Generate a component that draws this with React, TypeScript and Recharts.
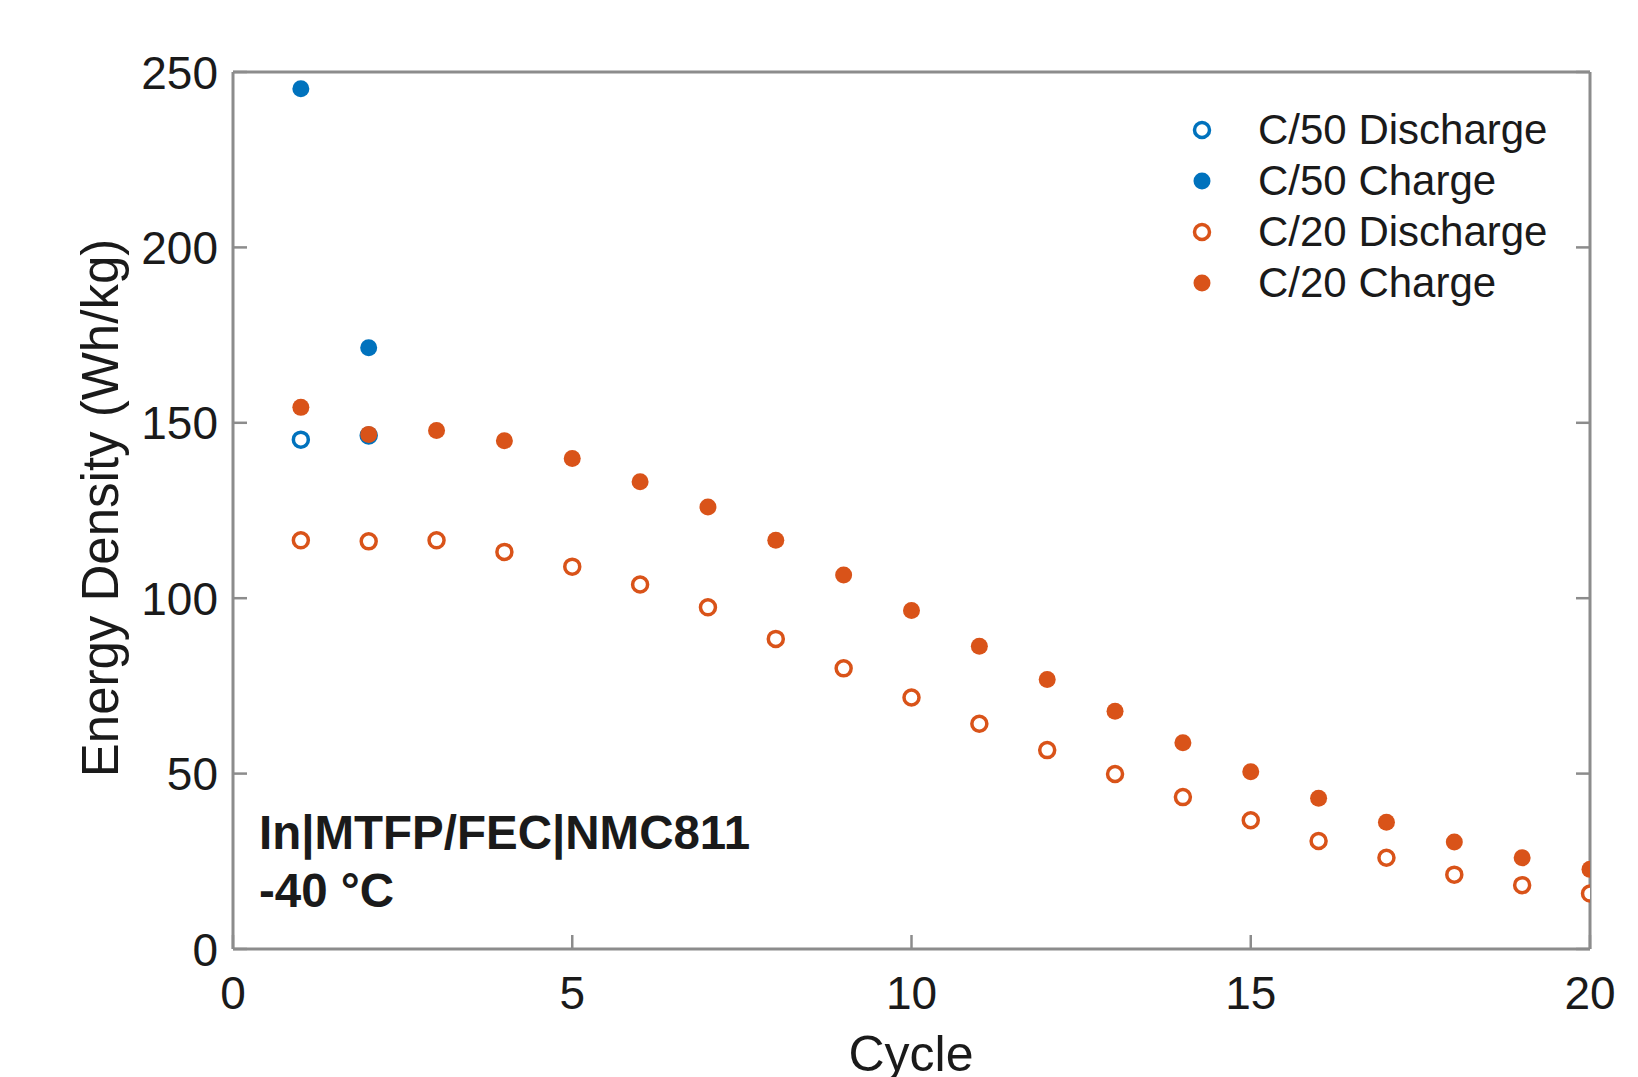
import { ScatterChart, Scatter, XAxis, YAxis, Legend } from 'recharts'

// cycle numbers and energy density (Wh/kg)
const cycles = [1, 2, 3, 4, 5, 6, 7, 8, 9, 10, 11, 12, 13, 14, 15, 16, 17, 18, 19, 20]
const c50Discharge = [145.2, 146.4]
const c50Charge = [245.2, 171.4]
const c20Discharge = [116.5, 116.2, 116.5, 113.2, 109.0, 103.9, 97.4, 88.4, 80.0, 71.7, 64.2, 56.7, 49.9, 43.3, 36.7, 30.8, 26.0, 21.2, 18.2, 15.8]
const c20Charge = [154.4, 146.7, 147.8, 144.9, 139.8, 133.2, 126.0, 116.5, 106.6, 96.5, 86.3, 76.8, 67.8, 58.8, 50.5, 43.0, 36.1, 30.5, 26.0, 22.7]

const xTicks = [0, 5, 10, 15, 20]
const yTicks = [0, 50, 100, 150, 200, 250]

const BLUE = '#0072BD'
const ORANGE = '#D95319'
const AXIS = '#8c8c8c'
const INK = '#1a1a1a'
const FONT = '"Liberation Sans", Arial, Helvetica, sans-serif'

const series = [
  { name: 'C/50 Discharge', values: c50Discharge, color: BLUE, open: true },
  { name: 'C/50 Charge', values: c50Charge, color: BLUE, open: false },
  { name: 'C/20 Discharge', values: c20Discharge, color: ORANGE, open: true },
  { name: 'C/20 Charge', values: c20Charge, color: ORANGE, open: false },
]

const toPoints = (values: number[]) => values.map((v, i) => ({ cycle: cycles[i], energy: v }))

function Marker({ cx, cy, color, open }: { cx: number; cy: number; color: string; open: boolean }) {
  if (cx == null || cy == null) return null
  return open
    ? <circle cx={cx} cy={cy} r={7.5} fill="#fff" stroke={color} strokeWidth={3.5} />
    : <circle cx={cx} cy={cy} r={8.5} fill={color} />
}

function BottomTick({ x, y, payload }: any) {
  return (
    <g>
      <line x1={x} x2={x} y1={y} y2={y - 14} stroke={AXIS} strokeWidth={2.5} />
      <text x={x} y={y + 60} textAnchor="middle" fontSize={46} fill={INK} fontFamily={FONT}>{payload.value}</text>
    </g>
  )
}

function LeftTick({ x, y, payload }: any) {
  return (
    <g>
      <line x1={x} x2={x + 14} y1={y} y2={y} stroke={AXIS} strokeWidth={2.5} />
      <text x={x - 15} y={y + 16.5} textAnchor="end" fontSize={46} fill={INK} fontFamily={FONT}>{payload.value}</text>
    </g>
  )
}

function TopTick({ x, y }: any) {
  return <line x1={x} x2={x} y1={y} y2={y + 14} stroke={AXIS} strokeWidth={2.5} />
}

function RightTick({ x, y }: any) {
  return <line x1={x} x2={x - 14} y1={y} y2={y} stroke={AXIS} strokeWidth={2.5} />
}

function LegendBox() {
  return (
    <div style={{ fontFamily: FONT, fontSize: 42, color: INK }}>
      {series.map(s => (
        <div key={s.name} style={{ display: 'flex', alignItems: 'center', height: 51 }}>
          <svg width={24} height={24} style={{ marginRight: 44 }}>
            <Marker cx={12} cy={12} color={s.color} open={s.open} />
          </svg>
          <span style={{ lineHeight: '51px', whiteSpace: 'nowrap' }}>{s.name}</span>
        </div>
      ))}
    </div>
  )
}

export default function App() {
  return (
    <div style={{ position: 'absolute', left: 0, top: 0, width: 1638, height: 1077, background: '#fff', overflow: 'hidden' }}>
      <ScatterChart width={1638} height={1077} margin={{ top: 71, right: 47, left: 83, bottom: 68 }}>
        <XAxis
          xAxisId="bottom" dataKey="cycle" type="number" domain={[0, 20]} ticks={xTicks}
          allowDataOverflow height={60} tickSize={0} tickMargin={0} tickLine={false}
          axisLine={{ stroke: AXIS, strokeWidth: 3 }} tick={<BottomTick />} interval={0}
        />
        <XAxis
          xAxisId="top" orientation="top" type="number" domain={[0, 20]} ticks={xTicks}
          allowDataOverflow height={1} tickSize={0} tickMargin={0} tickLine={false}
          axisLine={{ stroke: AXIS, strokeWidth: 3 }} tick={<TopTick />} interval={0}
        />
        <YAxis
          yAxisId="left" dataKey="energy" type="number" domain={[0, 250]} ticks={yTicks}
          allowDataOverflow width={150} tickSize={0} tickMargin={0} tickLine={false}
          axisLine={{ stroke: AXIS, strokeWidth: 3 }} tick={<LeftTick />} interval={0}
        />
        <YAxis
          yAxisId="right" orientation="right" type="number" domain={[0, 250]} ticks={yTicks}
          allowDataOverflow width={1} tickSize={0} tickMargin={0} tickLine={false}
          axisLine={{ stroke: AXIS, strokeWidth: 3 }} tick={<RightTick />} interval={0}
        />
        <Legend
          layout="vertical" align="center" verticalAlign="middle"
          content={() => <LegendBox />}
          wrapperStyle={{ left: 1190, top: 104, width: 400, height: 210 }}
        />
        {series.map(s => (
          <Scatter
            key={s.name}
            name={s.name}
            data={toPoints(s.values)}
            xAxisId="bottom"
            yAxisId="left"
            fill={s.color}
            isAnimationActive={false}
            shape={(p: any) => <Marker cx={p.cx} cy={p.cy} color={s.color} open={s.open} />}
          />
        ))}
      </ScatterChart>
      <svg width={1638} height={1077} style={{ position: 'absolute', left: 0, top: 0, pointerEvents: 'none' }}>
        <text x={911} y={1071} textAnchor="middle" fontSize={50} fill={INK} fontFamily={FONT}>Cycle</text>
        <text
          x={118} y={508} textAnchor="middle" fontSize={51} fill={INK} fontFamily={FONT}
          transform="rotate(-90 118 508)"
        >
          Energy Density (Wh/kg)
        </text>
        <text x={259} y={849} fontSize={47.5} fontWeight="bold" fill={INK} fontFamily={FONT}>In|MTFP/FEC|NMC811</text>
        <text x={259} y={907} fontSize={47.5} fontWeight="bold" fill={INK} fontFamily={FONT}>-40 °C</text>
      </svg>
    </div>
  )
}
